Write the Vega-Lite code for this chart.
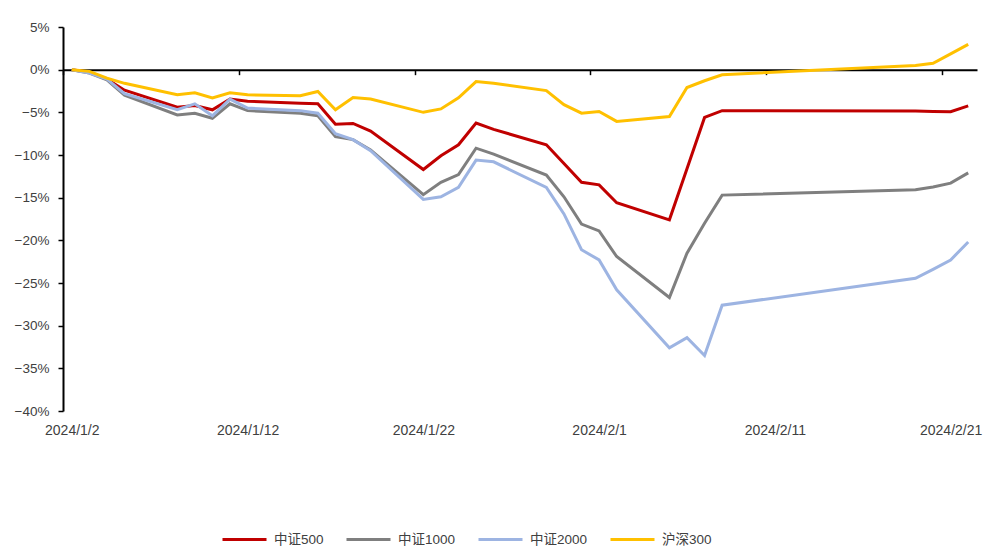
{
  "$schema": "https://vega.github.io/schema/vega-lite/v6.json",
  "width": 914,
  "height": 384,
  "autosize": {"type": "none"},
  "padding": {"left": 63, "top": 27, "right": 28, "bottom": 144},
  "background": "white",
  "config": {"view": {"stroke": null}, "font": "Liberation Sans, Noto Sans CJK SC"},
  "datasets": {
    "d": [
      {"date":"2024-01-02","s":"中证500","v":0},{"date":"2024-01-03","s":"中证500","v":-0.3},{"date":"2024-01-04","s":"中证500","v":-1.1},{"date":"2024-01-05","s":"中证500","v":-2.4},{"date":"2024-01-08","s":"中证500","v":-4.4},{"date":"2024-01-09","s":"中证500","v":-4.2},{"date":"2024-01-10","s":"中证500","v":-4.7},{"date":"2024-01-11","s":"中证500","v":-3.45},{"date":"2024-01-12","s":"中证500","v":-3.7},{"date":"2024-01-15","s":"中证500","v":-3.95},{"date":"2024-01-16","s":"中证500","v":-4.0},{"date":"2024-01-17","s":"中证500","v":-6.4},{"date":"2024-01-18","s":"中证500","v":-6.3},{"date":"2024-01-19","s":"中证500","v":-7.2},{"date":"2024-01-22","s":"中证500","v":-11.7},{"date":"2024-01-23","s":"中证500","v":-10.1},{"date":"2024-01-24","s":"中证500","v":-8.8},{"date":"2024-01-25","s":"中证500","v":-6.25},{"date":"2024-01-26","s":"中证500","v":-7.0},{"date":"2024-01-29","s":"中证500","v":-8.8},{"date":"2024-01-30","s":"中证500","v":-11.0},{"date":"2024-01-31","s":"中证500","v":-13.2},{"date":"2024-02-01","s":"中证500","v":-13.5},{"date":"2024-02-02","s":"中证500","v":-15.6},{"date":"2024-02-05","s":"中证500","v":-17.6},{"date":"2024-02-06","s":"中证500","v":-11.6},{"date":"2024-02-07","s":"中证500","v":-5.6},{"date":"2024-02-08","s":"中证500","v":-4.8},{"date":"2024-02-19","s":"中证500","v":-4.85},{"date":"2024-02-20","s":"中证500","v":-4.9},{"date":"2024-02-21","s":"中证500","v":-4.93},{"date":"2024-02-22","s":"中证500","v":-4.25},
      {"date":"2024-01-02","s":"中证1000","v":0},{"date":"2024-01-03","s":"中证1000","v":-0.4},{"date":"2024-01-04","s":"中证1000","v":-1.2},{"date":"2024-01-05","s":"中证1000","v":-3.0},{"date":"2024-01-08","s":"中证1000","v":-5.3},{"date":"2024-01-09","s":"中证1000","v":-5.1},{"date":"2024-01-10","s":"中证1000","v":-5.7},{"date":"2024-01-11","s":"中证1000","v":-4.0},{"date":"2024-01-12","s":"中证1000","v":-4.8},{"date":"2024-01-15","s":"中证1000","v":-5.1},{"date":"2024-01-16","s":"中证1000","v":-5.4},{"date":"2024-01-17","s":"中证1000","v":-7.85},{"date":"2024-01-18","s":"中证1000","v":-8.2},{"date":"2024-01-19","s":"中证1000","v":-9.4},{"date":"2024-01-22","s":"中证1000","v":-14.65},{"date":"2024-01-23","s":"中证1000","v":-13.2},{"date":"2024-01-24","s":"中证1000","v":-12.3},{"date":"2024-01-25","s":"中证1000","v":-9.2},{"date":"2024-01-26","s":"中证1000","v":-9.9},{"date":"2024-01-29","s":"中证1000","v":-12.35},{"date":"2024-01-30","s":"中证1000","v":-14.9},{"date":"2024-01-31","s":"中证1000","v":-18.1},{"date":"2024-02-01","s":"中证1000","v":-18.9},{"date":"2024-02-02","s":"中证1000","v":-21.9},{"date":"2024-02-05","s":"中证1000","v":-26.7},{"date":"2024-02-06","s":"中证1000","v":-21.5},{"date":"2024-02-07","s":"中证1000","v":-18.0},{"date":"2024-02-08","s":"中证1000","v":-14.7},{"date":"2024-02-19","s":"中证1000","v":-14.07},{"date":"2024-02-20","s":"中证1000","v":-13.76},{"date":"2024-02-21","s":"中证1000","v":-13.3},{"date":"2024-02-22","s":"中证1000","v":-12.1},
      {"date":"2024-01-02","s":"中证2000","v":0},{"date":"2024-01-03","s":"中证2000","v":-0.4},{"date":"2024-01-04","s":"中证2000","v":-1.1},{"date":"2024-01-05","s":"中证2000","v":-2.8},{"date":"2024-01-08","s":"中证2000","v":-4.7},{"date":"2024-01-09","s":"中证2000","v":-4.0},{"date":"2024-01-10","s":"中证2000","v":-5.4},{"date":"2024-01-11","s":"中证2000","v":-3.45},{"date":"2024-01-12","s":"中证2000","v":-4.5},{"date":"2024-01-15","s":"中证2000","v":-4.8},{"date":"2024-01-16","s":"中证2000","v":-5.1},{"date":"2024-01-17","s":"中证2000","v":-7.5},{"date":"2024-01-18","s":"中证2000","v":-8.2},{"date":"2024-01-19","s":"中证2000","v":-9.5},{"date":"2024-01-22","s":"中证2000","v":-15.2},{"date":"2024-01-23","s":"中证2000","v":-14.9},{"date":"2024-01-24","s":"中证2000","v":-13.8},{"date":"2024-01-25","s":"中证2000","v":-10.6},{"date":"2024-01-26","s":"中证2000","v":-10.8},{"date":"2024-01-29","s":"中证2000","v":-13.8},{"date":"2024-01-30","s":"中证2000","v":-16.9},{"date":"2024-01-31","s":"中证2000","v":-21.1},{"date":"2024-02-01","s":"中证2000","v":-22.3},{"date":"2024-02-02","s":"中证2000","v":-25.8},{"date":"2024-02-05","s":"中证2000","v":-32.6},{"date":"2024-02-06","s":"中证2000","v":-31.4},{"date":"2024-02-07","s":"中证2000","v":-33.5},{"date":"2024-02-08","s":"中证2000","v":-27.6},{"date":"2024-02-19","s":"中证2000","v":-24.45},{"date":"2024-02-20","s":"中证2000","v":-23.4},{"date":"2024-02-21","s":"中证2000","v":-22.3},{"date":"2024-02-22","s":"中证2000","v":-20.2},
      {"date":"2024-01-02","s":"沪深300","v":0},{"date":"2024-01-03","s":"沪深300","v":-0.2},{"date":"2024-01-04","s":"沪深300","v":-1.0},{"date":"2024-01-05","s":"沪深300","v":-1.6},{"date":"2024-01-08","s":"沪深300","v":-2.95},{"date":"2024-01-09","s":"沪深300","v":-2.7},{"date":"2024-01-10","s":"沪深300","v":-3.3},{"date":"2024-01-11","s":"沪深300","v":-2.7},{"date":"2024-01-12","s":"沪深300","v":-2.95},{"date":"2024-01-15","s":"沪深300","v":-3.05},{"date":"2024-01-16","s":"沪深300","v":-2.56},{"date":"2024-01-17","s":"沪深300","v":-4.7},{"date":"2024-01-18","s":"沪深300","v":-3.26},{"date":"2024-01-19","s":"沪深300","v":-3.45},{"date":"2024-01-22","s":"沪深300","v":-5.0},{"date":"2024-01-23","s":"沪深300","v":-4.6},{"date":"2024-01-24","s":"沪深300","v":-3.3},{"date":"2024-01-25","s":"沪深300","v":-1.4},{"date":"2024-01-26","s":"沪深300","v":-1.6},{"date":"2024-01-29","s":"沪深300","v":-2.45},{"date":"2024-01-30","s":"沪深300","v":-4.1},{"date":"2024-01-31","s":"沪深300","v":-5.1},{"date":"2024-02-01","s":"沪深300","v":-4.9},{"date":"2024-02-02","s":"沪深300","v":-6.06},{"date":"2024-02-05","s":"沪深300","v":-5.5},{"date":"2024-02-06","s":"沪深300","v":-2.1},{"date":"2024-02-07","s":"沪深300","v":-1.3},{"date":"2024-02-08","s":"沪深300","v":-0.6},{"date":"2024-02-19","s":"沪深300","v":0.5},{"date":"2024-02-20","s":"沪深300","v":0.75},{"date":"2024-02-21","s":"沪深300","v":1.85},{"date":"2024-02-22","s":"沪深300","v":2.96}
    ]
  },
  "data": {"name": "d"},
  "mark": {"type": "line", "strokeWidth": 3},
  "encoding": {
    "x": {
      "field": "date",
      "type": "temporal",
      "scale": {
        "type": "utc",
        "domain": [
          {"year": 2024, "month": 1, "date": 1, "hours": 12, "utc": true},
          {"year": 2024, "month": 2, "date": 22, "hours": 12, "utc": true}
        ]
      },
      "axis": {
        "orient": "bottom",
        "offset": -341.33,
        "values": [
          {"year": 2024, "month": 1, "date": 1, "hours": 12, "utc": true},
          {"year": 2024, "month": 1, "date": 11, "hours": 12, "utc": true},
          {"year": 2024, "month": 1, "date": 21, "hours": 12, "utc": true},
          {"year": 2024, "month": 1, "date": 31, "hours": 12, "utc": true},
          {"year": 2024, "month": 2, "date": 10, "hours": 12, "utc": true},
          {"year": 2024, "month": 2, "date": 20, "hours": 12, "utc": true}
        ],
        "labelExpr": "utcFormat(time(datum.value) + 43200000, '%Y/%-m/%-d')",
        "labelOffset": 8.8,
        "labelPadding": 349,
        "labelFlush": false,
        "labelOverlap": false,
        "labelFontSize": 14,
        "labelColor": "#404040",
        "tickSize": 5,
        "tickColor": "#000000",
        "tickWidth": 1.5,
        "domainColor": "#000000",
        "domainWidth": 2,
        "grid": false,
        "title": null
      }
    },
    "y": {
      "field": "v",
      "type": "quantitative",
      "scale": {"domain": [-40, 5], "nice": false, "zero": false},
      "axis": {
        "values": [5, 0, -5, -10, -15, -20, -25, -30, -35, -40],
        "labelExpr": "format(datum.value, 'd') + '%'",
        "labelFontSize": 13.5,
        "labelColor": "#404040",
        "labelPadding": 9,
        "tickSize": 5,
        "tickColor": "#000000",
        "tickWidth": 1.5,
        "domainColor": "#000000",
        "domainWidth": 2,
        "grid": false,
        "title": null
      }
    },
    "color": {
      "field": "s",
      "type": "nominal",
      "scale": {
        "domain": ["中证500", "中证1000", "中证2000", "沪深300"],
        "range": ["#C00000", "#7F7F7F", "#9DB4E2", "#FFC000"]
      },
      "legend": {
        "orient": "none",
        "legendX": 158,
        "legendY": 489,
        "direction": "horizontal",
        "title": null,
        "symbolType": "stroke",
        "symbolSize": 1936,
        "symbolStrokeWidth": 3,
        "labelFontSize": 13.5,
        "labelColor": "#404040",
        "labelOffset": 6,
        "columnPadding": 16
      }
    }
  }
}
